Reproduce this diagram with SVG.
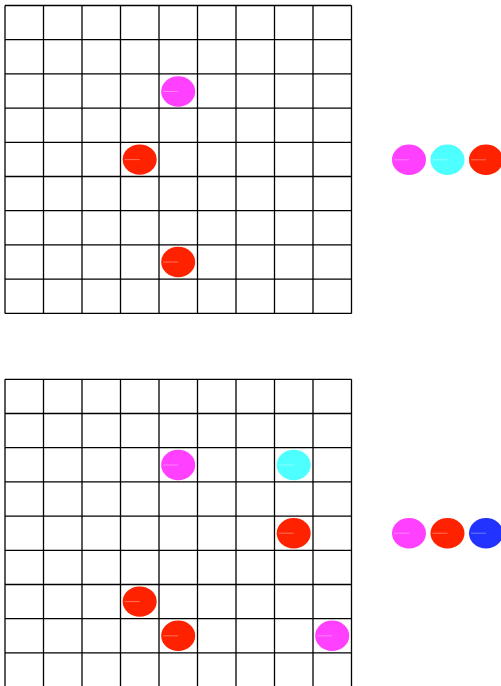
<svg xmlns="http://www.w3.org/2000/svg" width="501" height="686" viewBox="0 0 501 686">
<defs>
<style>
.g line{stroke:#000;stroke-width:1.3}
.pk{fill:#ff40ff}.cy{fill:#4dffff}.rd{fill:#ff2200}.bl{fill:#2233ff}
.hl{stroke:#ffffff;stroke-opacity:0.45;stroke-width:0.8}
</style>
<g id="dot"><ellipse cx="0" cy="0" rx="17" ry="15.2"/><line class="hl" x1="-15" y1="0" x2="0" y2="0"/></g>
</defs>
<rect width="501" height="686" fill="#fff"/>
<g id="grid-top" class="g">
<line x1="5" y1="5.5" x2="5" y2="313.5"/><line x1="43.5" y1="5.5" x2="43.5" y2="313.5"/><line x1="82" y1="5.5" x2="82" y2="313.5"/><line x1="120.5" y1="5.5" x2="120.5" y2="313.5"/><line x1="159" y1="5.5" x2="159" y2="313.5"/><line x1="197.5" y1="5.5" x2="197.5" y2="313.5"/><line x1="236" y1="5.5" x2="236" y2="313.5"/><line x1="274.5" y1="5.5" x2="274.5" y2="313.5"/><line x1="313" y1="5.5" x2="313" y2="313.5"/><line x1="351.5" y1="5.5" x2="351.5" y2="313.5"/>
<line x1="5" y1="5.5" x2="351.5" y2="5.5"/><line x1="5" y1="39.7" x2="351.5" y2="39.7"/><line x1="5" y1="73.9" x2="351.5" y2="73.9"/><line x1="5" y1="108.1" x2="351.5" y2="108.1"/><line x1="5" y1="142.3" x2="351.5" y2="142.3"/><line x1="5" y1="176.5" x2="351.5" y2="176.5"/><line x1="5" y1="210.7" x2="351.5" y2="210.7"/><line x1="5" y1="244.9" x2="351.5" y2="244.9"/><line x1="5" y1="279.1" x2="351.5" y2="279.1"/><line x1="5" y1="313.3" x2="351.5" y2="313.3"/>
</g>
<g id="grid-bottom" class="g">
<line x1="5" y1="379.3" x2="5" y2="686"/><line x1="43.5" y1="379.3" x2="43.5" y2="686"/><line x1="82" y1="379.3" x2="82" y2="686"/><line x1="120.5" y1="379.3" x2="120.5" y2="686"/><line x1="159" y1="379.3" x2="159" y2="686"/><line x1="197.5" y1="379.3" x2="197.5" y2="686"/><line x1="236" y1="379.3" x2="236" y2="686"/><line x1="274.5" y1="379.3" x2="274.5" y2="686"/><line x1="313" y1="379.3" x2="313" y2="686"/><line x1="351.5" y1="379.3" x2="351.5" y2="686"/>
<line x1="5" y1="379.3" x2="351.5" y2="379.3"/><line x1="5" y1="413.5" x2="351.5" y2="413.5"/><line x1="5" y1="447.7" x2="351.5" y2="447.7"/><line x1="5" y1="481.9" x2="351.5" y2="481.9"/><line x1="5" y1="516.1" x2="351.5" y2="516.1"/><line x1="5" y1="550.3" x2="351.5" y2="550.3"/><line x1="5" y1="584.5" x2="351.5" y2="584.5"/><line x1="5" y1="618.7" x2="351.5" y2="618.7"/><line x1="5" y1="652.9" x2="351.5" y2="652.9"/>
</g>
<g id="pieces-top">
<use href="#dot" class="pk" x="178.2" y="91.5"/>
<use href="#dot" class="rd" x="139.7" y="159.6"/>
<use href="#dot" class="rd" x="178.2" y="262"/>
</g>
<g id="queue-top">
<use href="#dot" class="pk" x="409" y="159.8"/>
<use href="#dot" class="cy" x="447.5" y="159.8"/>
<use href="#dot" class="rd" x="486" y="159.8"/>
</g>
<g id="pieces-bottom">
<use href="#dot" class="pk" x="178.2" y="465"/>
<use href="#dot" class="cy" x="293.7" y="465"/>
<use href="#dot" class="rd" x="293.7" y="533.2"/>
<use href="#dot" class="rd" x="139.7" y="601.6"/>
<use href="#dot" class="rd" x="178.2" y="635.8"/>
<use href="#dot" class="pk" x="332.2" y="635.8"/>
</g>
<g id="queue-bottom">
<use href="#dot" class="pk" x="409" y="533.2"/>
<use href="#dot" class="rd" x="447.5" y="533.2"/>
<use href="#dot" class="bl" x="486" y="533.2"/>
</g>
</svg>
